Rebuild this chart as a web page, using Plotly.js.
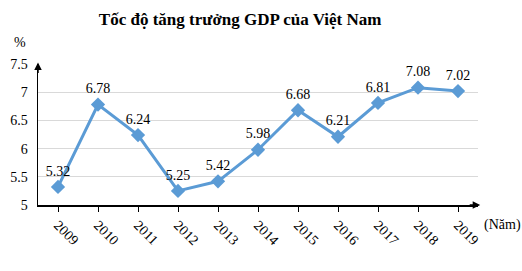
<!DOCTYPE html>
<html><head><meta charset="utf-8">
<script src="https://cdn.plot.ly/plotly-3.0.1.min.js"></script>
<style>body{margin:0;background:#fff}#c{width:522px;height:271px}</style>
</head><body><div id="c"></div>
<script>
const years = ['2009','2010','2011','2012','2013','2014','2015','2016','2017','2018','2019'];
const growth = [5.32,6.78,6.24,5.25,5.42,5.98,6.68,6.21,6.81,7.08,7.02];
const yTicks = [5,5.5,6,6.5,7,7.5];
const yTickText = ['5','5.5','6','6.5','7','7.5'];
const F = 'Liberation Serif';

const trace = {
  x: years, y: growth, type: 'scatter', mode: 'lines+markers+text',
  text: growth.map(v => v.toFixed(2)), textposition: 'top center',
  textfont: {family: F, size: 14, color: '#000'},
  line: {color: '#5b9bd5', width: 3},
  marker: {symbol: 'diamond', size: 11, color: '#5b9bd5'},
  cliponaxis: false, hoverinfo: 'none'
};
const layout = {
  width: 522, height: 271,
  margin: {l: 38, r: 44, t: 64, b: 66},
  paper_bgcolor: '#fff', plot_bgcolor: '#fff',
  showlegend: false,
  font: {family: F, color: '#000'},
  title: {text: '<b>Tốc độ tăng trưởng GDP của Việt Nam</b>', font: {family: F, size: 17, color: '#000'}, x: 0.46, xanchor: 'center', y: 0.93, yanchor: 'middle'},
  xaxis: {type: 'category', range: [-0.5, 10.5], showgrid: false, showline: true, linecolor: '#000', linewidth: 1.5,
    ticks: 'outside', ticklen: 5, tickcolor: '#000', tickwidth: 1, tickangle: 45,
    tickfont: {family: F, size: 14, color: '#000'}, zeroline: false, fixedrange: true},
  yaxis: {range: [5, 7.5], tickvals: yTicks, ticktext: yTickText, showgrid: true, gridcolor: '#d9d9d9', gridwidth: 1,
    showline: true, linecolor: '#000', linewidth: 1.5, ticks: '', ticklabelstandoff: 6,
    tickfont: {family: F, size: 14, color: '#000'}, zeroline: false, fixedrange: true},
  annotations: [
    {text: '%', xref: 'paper', yref: 'paper', x: -0.04, y: 1.15, showarrow: false, font: {family: F, size: 14, color: '#000'}, xanchor: 'center', yanchor: 'middle'},
    {text: '(Năm)', xref: 'paper', yref: 'paper', x: 1.01, y: -0.14, showarrow: false, font: {family: F, size: 14, color: '#000'}, xanchor: 'left', yanchor: 'middle'},
    {text: '', xref: 'paper', yref: 'paper', x: 0, y: 1.01, ax: 0, ay: 12, showarrow: true, arrowhead: 2, arrowsize: 1, arrowwidth: 1.5, arrowcolor: '#000'},
    {text: '', xref: 'paper', yref: 'paper', x: 1.005, y: 0, ax: -12, ay: 0, showarrow: true, arrowhead: 2, arrowsize: 1, arrowwidth: 1.5, arrowcolor: '#000'}
  ]
};
Plotly.newPlot('c', [trace], layout, {staticPlot: true, displayModeBar: false});
</script></body></html>
